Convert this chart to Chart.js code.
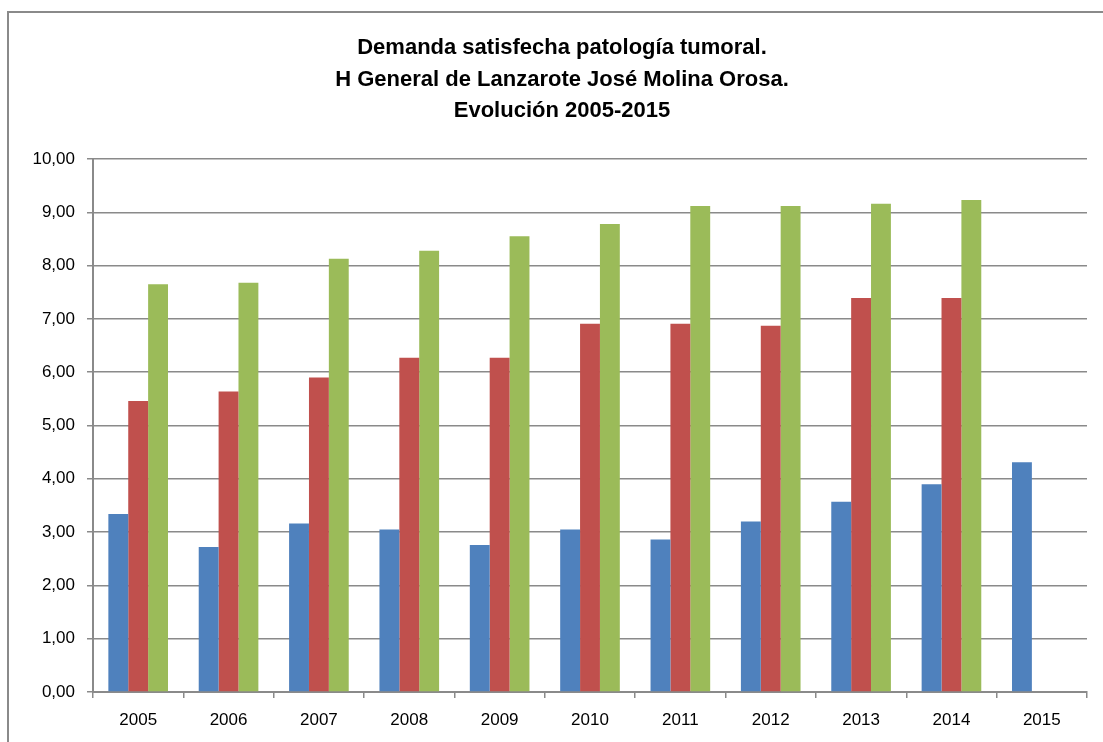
<!DOCTYPE html>
<html>
<head>
<meta charset="utf-8">
<script src="https://cdn.jsdelivr.net/npm/chart.js@4"></script>
<style>
  html, body { margin: 0; padding: 0; background: #fff; overflow: hidden; }
  #wrap { position: relative; width: 1103px; height: 742px; }
  #frame { position: absolute; left: 7px; top: 11px; width: 1120px; height: 760px; border: 2px solid #8a8a8a; box-sizing: border-box; }
  #title { position: absolute; left: 262px; width: 600px; top: 31px; text-align: center;
           font: bold 22px 'Liberation Sans', Arial, sans-serif; line-height: 31.5px; color: #000; }
  canvas { position: absolute; left: 0; top: 0; }
</style>
</head>
<body>
<div id="wrap">
  <div id="frame"></div>
  <canvas id="chart" width="1103" height="742"></canvas>
  <div id="title"></div>
</div>
<script>
const years = ['2005', '2006', '2007', '2008', '2009', '2010', '2011', '2012', '2013', '2014', '2015'];
const serieAzul = [3.34, 2.72, 3.16, 3.05, 2.76, 3.05, 2.86, 3.20, 3.57, 3.90, 4.31];
const serieRoja = [5.46, 5.64, 5.90, 6.27, 6.27, 6.91, 6.91, 6.87, 7.39, 7.39, null];
const serieVerde = [7.65, 7.68, 8.13, 8.28, 8.55, 8.78, 9.12, 9.12, 9.16, 9.23, null];
const titleLines = ['Demanda satisfecha patología tumoral.', 'H General de Lanzarote José Molina Orosa.', 'Evolución 2005-2015'];

const FONT = "'Liberation Sans', Arial, sans-serif";

document.addEventListener('DOMContentLoaded', function() {
    // titulo como texto html, centrado sobre el marco completo
    const t = document.getElementById('title');
    titleLines.forEach(function(line) {
        const d = document.createElement('div');
        d.textContent = line;
        t.appendChild(d);
    });

    const ctx = document.getElementById('chart').getContext('2d');
    new Chart(ctx, {
        type: 'bar',
        data: {
            labels: years,
            datasets: [
                { label: 'Serie 1', data: serieAzul, backgroundColor: '#4F81BD' },
                { label: 'Serie 2', data: serieRoja, backgroundColor: '#C0504D' },
                { label: 'Serie 3', data: serieVerde, backgroundColor: '#9BBB59' }
            ]
        },
        options: {
            responsive: false,
            animation: false,
            layout: { padding: { left: 8, right: 16, top: 159, bottom: 0 } },
            datasets: {
                bar: { categoryPercentage: 0.66, barPercentage: 1.0 }
            },
            plugins: {
                legend: { display: false },
                tooltip: { enabled: false },
                title: { display: false }
            },
            scales: {
                x: {
                    grid: {
                        offset: true,
                        drawOnChartArea: false,
                        color: '#8a8a8a',
                        lineWidth: 1.5,
                        tickLength: 6
                    },
                    border: { color: '#8a8a8a', width: 2 },
                    ticks: { color: '#000', font: { family: FONT, size: 17 }, padding: 12 },
                    afterFit: function(scale) { scale.height = 50; }
                },
                y: {
                    min: 0,
                    max: 10,
                    ticks: {
                        stepSize: 1,
                        color: '#000',
                        font: { family: FONT, size: 17 },
                        padding: 12,
                        callback: function(v) { return v.toFixed(2).replace('.', ','); }
                    },
                    grid: { color: '#8a8a8a', lineWidth: 1.5, tickLength: 6 },
                    border: { color: '#8a8a8a', width: 2 },
                    afterFit: function(scale) { scale.width = 85; }
                }
            }
        }
    });
});
</script>
</body>
</html>
